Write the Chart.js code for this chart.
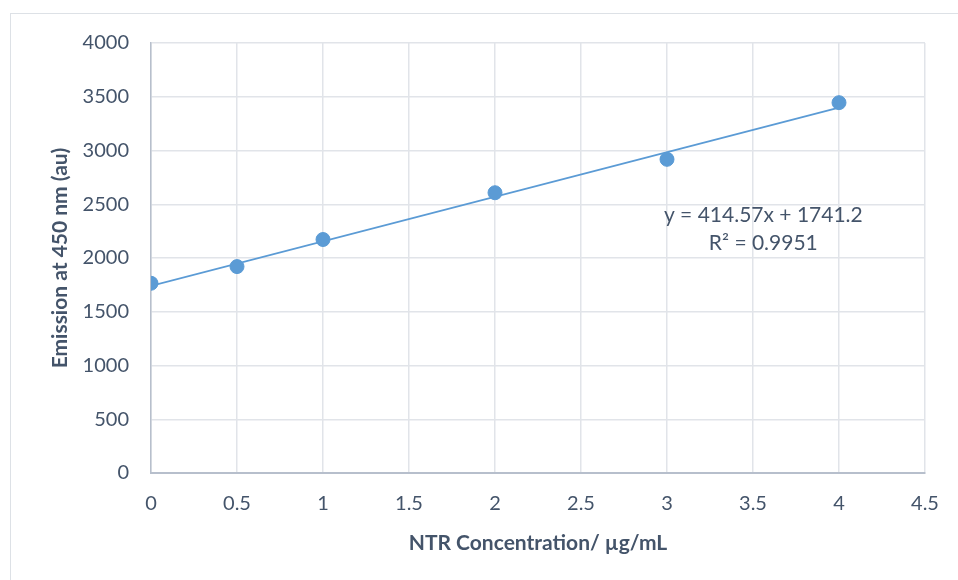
<!DOCTYPE html>
<html>
<head>
<meta charset="utf-8">
<script src="https://cdn.jsdelivr.net/npm/chart.js@4"></script>
<style>
  html, body { margin: 0; padding: 0; background: #fff; overflow: hidden; }
  #wrap { position: relative; width: 958px; height: 580px; }
  #frame { position: absolute; left: 10px; top: 13px; width: 1000px; height: 1000px;
           border: 1.5px solid #dde1e6; box-sizing: border-box; }
  canvas { position: absolute; left: 0; top: 0; }
</style>
</head>
<body>
<div id="wrap">
  <div id="frame"></div>
  <canvas id="chart" width="958" height="580"></canvas>
</div>
<script>
// measured points
const concentrations = [0, 0.5, 1, 2, 3, 4];
const emissions = [1765, 1920, 2172, 2607, 2918, 3445];

// linear trendline endpoints (y = 414.57x + 1741.2)
const trendX = [0, 4];
const trendY = [1741.2, 3399.48];
const trendLabels = ['y = 414.57x + 1741.2', 'R² = 0.9951'];

const xTicks = [0, 0.5, 1, 1.5, 2, 2.5, 3, 3.5, 4, 4.5];
const yTicks = [0, 500, 1000, 1500, 2000, 2500, 3000, 3500, 4000];

const textColor = '#44546a';
const blue = '#5b9bd5';
const gridColor = '#e1e4e9';
const fontFamily = 'Lato, "Open Sans", sans-serif';

// draws the trendline equation inside the plot
const equationPlugin = {
  id: 'equation',
  afterDatasetsDraw(chart) {
    const { ctx, scales } = chart;
    const cx = scales.x.getPixelForValue(3.56);
    ctx.save();
    ctx.fillStyle = textColor;
    ctx.font = '21px ' + fontFamily;
    ctx.textAlign = 'center';
    ctx.textBaseline = 'middle';
    ctx.fillText(trendLabels[0], cx, scales.y.getPixelForValue(2400));
    ctx.fillText(trendLabels[1], cx, scales.y.getPixelForValue(2140));
    ctx.restore();
  }
};

new Chart(document.getElementById('chart'), {
  type: 'scatter',
  data: {
    datasets: [
      {
        label: 'Trend',
        type: 'line',
        data: trendX.map((x, i) => ({ x, y: trendY[i] })),
        borderColor: blue,
        borderWidth: 1.8,
        pointRadius: 0,
        fill: false,
        order: 2
      },
      {
        label: 'Emission',
        data: concentrations.map((x, i) => ({ x, y: emissions[i] })),
        backgroundColor: blue,
        borderColor: blue,
        pointRadius: 7,
        order: 1
      }
    ]
  },
  options: {
    responsive: false,
    animation: false,
    layout: { padding: { left: 0, right: 33, top: 43, bottom: 0 } },
    plugins: { legend: { display: false }, tooltip: { enabled: false } },
    scales: {
      x: {
        type: 'linear',
        min: 0,
        max: 4.5,
        afterBuildTicks: axis => { axis.ticks = xTicks.map(v => ({ value: v })); },
        afterFit: axis => { axis.height = 107; },
        grid: { color: gridColor, lineWidth: 1.5, drawTicks: false },
        border: { color: '#b7bfcc', width: 2 },
        ticks: {
          color: textColor, font: { family: fontFamily, size: 20 }, padding: 19, maxRotation: 0,
          callback: v => String(v)
        },
        title: {
          display: true,
          text: 'NTR Concentration/ µg/mL',
          color: textColor,
          font: { family: fontFamily, size: 21, weight: 'bold' },
          padding: { top: 4, bottom: 24 }
        }
      },
      y: {
        min: 0,
        max: 4000,
        afterBuildTicks: axis => { axis.ticks = yTicks.map(v => ({ value: v })); },
        afterFit: axis => { axis.width = 151; },
        grid: { color: gridColor, lineWidth: 1.5, drawTicks: false },
        border: { color: '#b7bfcc', width: 1.5 },
        ticks: {
          color: textColor, font: { family: fontFamily, size: 20 }, padding: 22,
          callback: v => String(v)
        },
        title: {
          display: true,
          text: 'Emission at 450 nm (au)',
          color: textColor,
          font: { family: fontFamily, size: 21, weight: 'bold' },
          padding: { top: 48, bottom: 0 }
        }
      }
    }
  },
  plugins: [equationPlugin]
});
</script>
</body>
</html>
